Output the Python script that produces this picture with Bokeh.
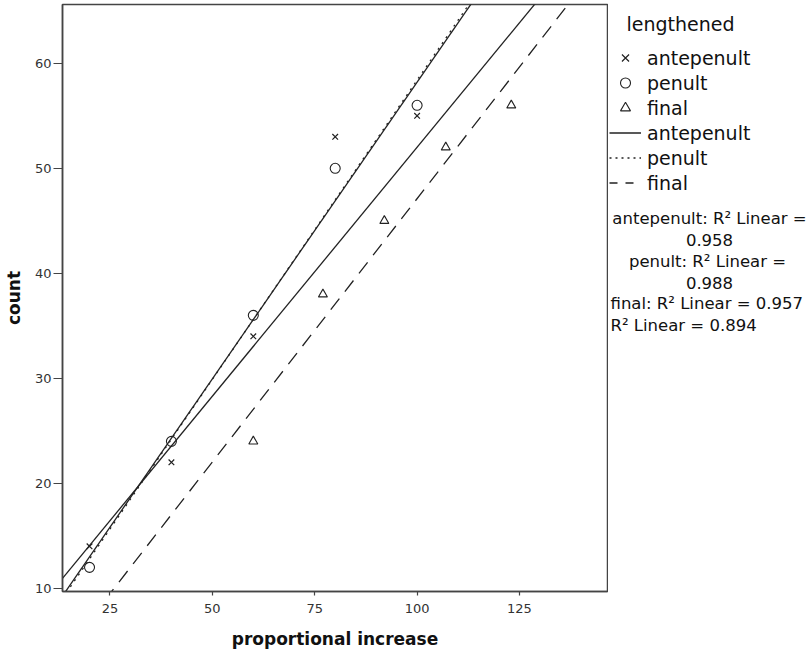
import numpy as np
from bokeh.plotting import figure
from bokeh.layouts import row
from bokeh.models import Range1d, Legend, LegendItem, Label, FixedTicker
from bokeh.embed import file_html
from bokeh.resources import INLINE

# ---- data ----
antepenult_x = [20, 40, 60, 80, 100]
antepenult_y = [14, 22, 34, 53, 55]
penult_x = [20, 40, 60, 80, 100]
penult_y = [12, 24, 36, 50, 56]
final_x = [60, 77, 92, 107, 123]
final_y = [24, 38, 45, 52, 56]
x_ticks = [25, 50, 75, 100, 125]
y_ticks = [10, 20, 30, 40, 50, 60]
r2_values = {"antepenult": 0.958, "penult": 0.988, "final": 0.957, "total": 0.894}
x_lo, x_hi = 13.4, 146.5
y_lo, y_hi = 9.7, 65.6

FONT = "DejaVu Sans"
INK = "#222222"
TOP, FRAME_H, BOTTOM = 4, 587, 59
LEFT_W = 607
RIGHT_W = 205

p = figure(frame_width=545, frame_height=FRAME_H,
           x_range=Range1d(x_lo, x_hi), y_range=Range1d(y_lo, y_hi),
           output_backend="svg", toolbar_location=None,
           min_border_left=61, min_border_right=1, min_border_top=TOP, min_border_bottom=BOTTOM)
p.background_fill_color = "white"
p.border_fill_color = "white"
p.outline_line_color = "#444444"
p.outline_line_width = 1.5
p.xgrid.visible = False
p.ygrid.visible = False

for ax, ticks in ((p.xaxis, x_ticks), (p.yaxis, y_ticks)):
    ax.ticker = FixedTicker(ticks=ticks)
    ax.minor_tick_line_color = None
    ax.axis_line_color = "#444444"
    ax.axis_line_width = 1.5
    ax.major_tick_line_color = "#444444"
    ax.major_tick_line_width = 1.2
    ax.major_tick_in = 0
    ax.major_label_text_font = FONT
    ax.major_label_text_font_size = "13px"
    ax.major_label_text_color = "#333333"
    ax.axis_label_text_font = FONT
    ax.axis_label_text_font_size = "17px"
    ax.axis_label_text_font_style = "bold"
    ax.axis_label_text_color = "#111111"
p.xaxis.major_tick_out = 4
p.yaxis.major_tick_out = 9
p.yaxis.major_label_standoff = 2
p.xaxis.major_label_standoff = 8
p.xaxis.axis_label = "proportional increase"
p.yaxis.axis_label = "count"
p.xaxis.axis_label_standoff = 13
p.yaxis.axis_label_standoff = 8

# ---- fit lines (least squares, drawn across the full x range) ----
def fit(xs, ys):
    m, b = np.polyfit(xs, ys, 1)
    xx = np.array([x_lo, x_hi])
    return xx, m * xx + b

all_x = antepenult_x + penult_x + final_x
all_y = antepenult_y + penult_y + final_y

tx, ty = fit(all_x, all_y)
ax_, ay_ = fit(antepenult_x, antepenult_y)
px_, py_ = fit(penult_x, penult_y)
fx_, fy_ = fit(final_x, final_y)

line_styles = dict(line_color=INK, line_width=1.3)
p.line(tx, ty, **line_styles)
p.line(ax_, ay_, **line_styles)
p.line(px_, py_, line_dash="2 5", **line_styles)
p.line(fx_, fy_, line_dash="14 9", **line_styles)

ante_style = dict(marker="x", size=8, line_color=INK, line_width=1.2)
pen_style = dict(marker="circle", size=10, fill_color=None, line_color=INK, line_width=1.1)
fin_style = dict(marker="triangle", size=9, fill_color=None, line_color=INK, line_width=1.1)
p.scatter(antepenult_x, antepenult_y, **ante_style)
p.scatter(penult_x, penult_y, **pen_style)
p.scatter(final_x, final_y, **fin_style)

# ---- right-hand panel: legend and R² notes (ranges in page pixels) ----
q = figure(frame_width=RIGHT_W, frame_height=FRAME_H,
           x_range=Range1d(LEFT_W, LEFT_W + RIGHT_W),
           y_range=Range1d(TOP + FRAME_H, TOP), output_backend="svg", toolbar_location=None,
           x_axis_type=None, y_axis_type=None,
           min_border_left=0, min_border_right=0, min_border_top=TOP, min_border_bottom=BOTTOM)
q.outline_line_color = None
q.xgrid.visible = False
q.ygrid.visible = False

# legend renderers carry the same series (they fall outside this panel's range)
g_ante = q.scatter(antepenult_x, antepenult_y, **ante_style)
g_pen = q.scatter(penult_x, penult_y, **pen_style)
g_fin = q.scatter(final_x, final_y, **fin_style)
g_lante = q.line(ax_, ay_, **line_styles)
g_lpen = q.line(px_, py_, line_dash="2 4", **line_styles)
g_lfin = q.line(fx_, fy_, line_dash="8 8", **line_styles)

legend = Legend(items=[
    LegendItem(label="antepenult", renderers=[g_ante]),
    LegendItem(label="penult", renderers=[g_pen]),
    LegendItem(label="final", renderers=[g_fin]),
    LegendItem(label="antepenult", renderers=[g_lante]),
    LegendItem(label="penult", renderers=[g_lpen]),
    LegendItem(label="final", renderers=[g_lfin]),
], location=(1, TOP + FRAME_H - 195), padding=0, margin=0, spacing=0,
    glyph_width=32, glyph_height=25, label_height=25, label_standoff=6,
    label_text_font=FONT, label_text_font_size="19px", label_text_color="#111111",
    border_line_color=None, background_fill_alpha=0)
q.add_layout(legend)

def add_label(text, x_page, y_page, align="left", size="16.5px"):
    q.add_layout(Label(x=x_page, y=y_page, text=text, text_align=align, text_baseline="middle",
                       text_font=FONT, text_font_size=size, text_color="#111111"))

add_label("lengthened", 625, 23, size="19px")
add_label("antepenult: R\u00b2 Linear =", 708, 218, align="center")
add_label(f"{r2_values['antepenult']:.3f}", 708, 239, align="center")
add_label("penult: R\u00b2 Linear =", 706, 261, align="center")
add_label(f"{r2_values['penult']:.3f}", 708, 282, align="center")
add_label(f"final: R\u00b2 Linear = {r2_values['final']:.3f}", 609, 303)
add_label(f"R\u00b2 Linear = {r2_values['total']:.3f}", 609, 325)

layout = row(p, q)
open("out.html", "w").write(file_html(layout, INLINE))
